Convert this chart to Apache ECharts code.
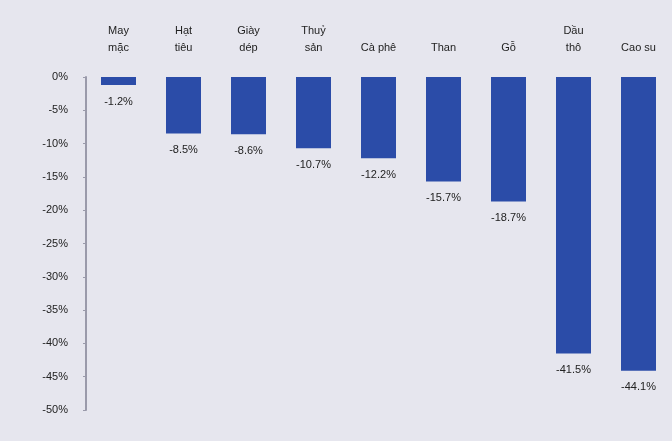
<!DOCTYPE html>
<html><head><meta charset="utf-8">
<script src="https://cdn.jsdelivr.net/npm/echarts@6/dist/echarts.min.js"></script>
<style>html,body{margin:0;padding:0;background:#e6e6ee;}#c{width:672px;height:441px;}</style>
</head><body><div id="c"></div>
<script>
const categories = ["May\nmặc", "Hạt\ntiêu", "Giày\ndép", "Thuỷ\nsản", "Cà phê", "Than", "Gỗ", "Dầu\nthô", "Cao su"];
const values = [-1.2, -8.5, -8.6, -10.7, -12.2, -15.7, -18.7, -41.5, -44.1];
const yTicks = {min: -50, max: 0, interval: 5};

const chart = echarts.init(document.getElementById('c'));
chart.setOption({
  backgroundColor: '#e6e6ee',
  animation: false,
  grid: {left: 86, right: 1, top: 77, bottom: 31},
  xAxis: {
    type: 'category', position: 'top', data: categories,
    axisLine: {show: false}, axisTick: {show: false},
    axisLabel: {interval: 0, margin: 21, color: '#222', fontSize: 11, fontFamily: 'Liberation Sans', lineHeight: 17}
  },
  yAxis: {
    type: 'value', min: yTicks.min, max: yTicks.max, interval: yTicks.interval,
    axisLine: {show: true, lineStyle: {color: '#9a9aaa', width: 2}},
    axisTick: {show: true, length: 3, lineStyle: {color: '#9a9aaa'}},
    splitLine: {show: false},
    axisLabel: {formatter: v => v + '%', color: '#222', fontSize: 11, fontFamily: 'Liberation Sans', margin: 18}
  },
  series: [{
    type: 'bar', data: values, barWidth: 35,
    itemStyle: {color: '#2b4ca8'},
    label: {show: true, position: 'bottom', distance: 11, formatter: p => p.value.toFixed(1) + '%', color: '#222', fontSize: 11, fontFamily: 'Liberation Sans'}
  }]
});
</script></body></html>
